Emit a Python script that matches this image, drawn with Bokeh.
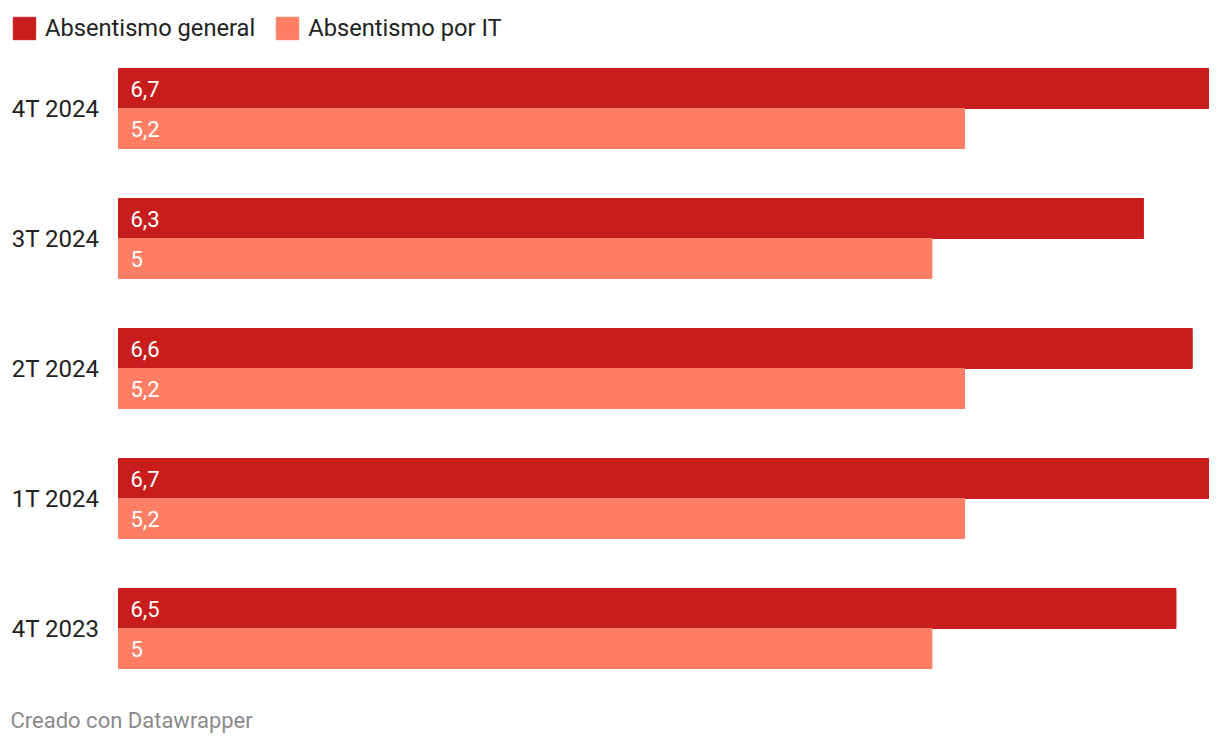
from bokeh.plotting import figure
from bokeh.models import ColumnDataSource, Range1d, Legend, LegendItem, Label
from bokeh.core.properties import value
from bokeh.embed import file_html
from bokeh.resources import INLINE

quarters = ["4T 2024", "3T 2024", "2T 2024", "1T 2024", "4T 2023"]
general = [6.7, 6.3, 6.6, 6.7, 6.5]
it = [5.2, 5.0, 5.2, 5.2, 5.0]
series_names = ["Absentismo general", "Absentismo por IT"]
colors = ["#c71e1d", "#ff7e64"]

def fmt(v):
    return f"{v:g}".replace(".", ",")

# layout constants (pixels)
W, H = 1212, 740
LEFT, RIGHT = 118, 1208
TOP_CENTER, PERIOD, BAR = 108, 130, 40
XMAX = 6.7

idx = list(range(len(quarters)))
off = (BAR / 2) / PERIOD
bh = BAR / PERIOD
src = ColumnDataSource(dict(
    q=quarters, i=idx,
    y_gen=[i - off for i in idx], y_it=[i + off for i in idx],
    general=general, it=it,
    general_lbl=[fmt(v) for v in general],
    it_lbl=[fmt(v) for v in it],
    zero=[0] * len(idx),
))

ppu = (RIGHT - LEFT) / XMAX
x_range = Range1d(-LEFT / ppu, XMAX + (W - RIGHT) / ppu)
y_range = Range1d((H - TOP_CENTER) / PERIOD, -TOP_CENTER / PERIOD)

FONT = "Roboto"
p = figure(width=W, height=H, output_backend="svg", toolbar_location=None,
           x_range=x_range, y_range=y_range,
           min_border=0, min_border_left=0, min_border_right=0,
           min_border_top=0, min_border_bottom=0)
p.outline_line_color = None
p.grid.visible = False
p.axis.visible = False
p.background_fill_color = "white"

r1 = p.hbar(y="y_gen", right="general", left=0, height=bh, color=colors[0], source=src)
r2 = p.hbar(y="y_it", right="it", left=0, height=bh, color=colors[1], source=src)

for col, ycol in (("general_lbl", "y_gen"), ("it_lbl", "y_it")):
    p.text(x="zero", y=ycol, text=col, source=src,
           x_offset=12, text_baseline="middle", text_align="left",
           text_color="white", text_font=value(FONT), text_font_size="22px")

# category labels
p.text(x="zero", y="i", text="q", source=src, x_offset=-19,
       text_baseline="middle", text_align="right",
       text_color="#222222", text_font=value(FONT), text_font_size="24px")

legend = Legend(items=[LegendItem(label=series_names[0], renderers=[r1]),
                       LegendItem(label=series_names[1], renderers=[r2])],
                orientation="horizontal", location=(10, H - 14 - 28),
                glyph_width=28, glyph_height=28, label_standoff=7, spacing=18,
                padding=0, margin=0, border_line_color=None, background_fill_alpha=0,
                label_text_font=FONT, label_text_font_size="23.7px", label_text_color="#222222",
                label_height=26)
p.add_layout(legend, "center")

footer = Label(x=10, y=H - 720, x_units="screen", y_units="screen",
               text="Creado con Datawrapper", text_font=FONT, text_font_size="22px",
               text_color="#8a8a8a", text_baseline="alphabetic")
p.add_layout(footer)

open("out.html", "w").write(file_html(p, INLINE))
